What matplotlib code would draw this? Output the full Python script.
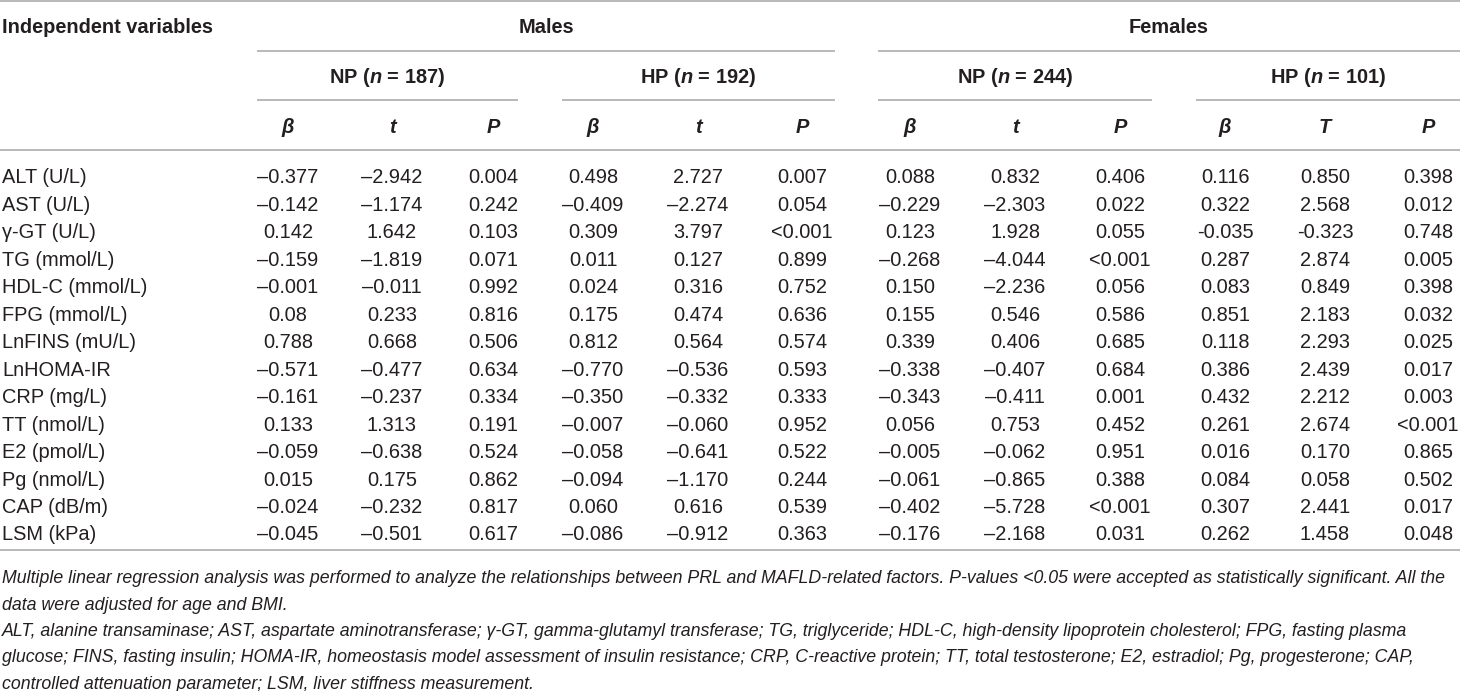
import matplotlib
matplotlib.use("Agg")
import matplotlib.pyplot as plt

plt.rcParams['font.family'] = ['Liberation Sans', 'DejaVu Sans']
plt.rcParams['mathtext.fontset'] = 'custom'
plt.rcParams['mathtext.it'] = 'Liberation Sans:italic:bold'
plt.rcParams['mathtext.rm'] = 'Liberation Sans:bold'

# Table content
variables = ["ALT (U/L)", "AST (U/L)", "γ-GT (U/L)", "TG (mmol/L)", "HDL-C (mmol/L)",
             "FPG (mmol/L)", "LnFINS (mU/L)", "LnHOMA-IR", "CRP (mg/L)", "TT (nmol/L)",
             "E2 (pmol/L)", "Pg (nmol/L)", "CAP (dB/m)", "LSM (kPa)"]

sexes = ["Males", "Females"]
groups = ["NP ($n$ = 187)", "HP ($n$ = 192)", "NP ($n$ = 244)", "HP ($n$ = 101)"]
stat_names = ["β", "t", "P", "β", "t", "P", "β", "t", "P", "β", "T", "P"]

m_np_beta = ["–0.377", "–0.142", "0.142", "–0.159", "–0.001", "0.08", "0.788", "–0.571",
             "–0.161", "0.133", "–0.059", "0.015", "–0.024", "–0.045"]
m_np_t = ["–2.942", "–1.174", "1.642", "–1.819", "–0.011", "0.233", "0.668", "–0.477",
          "–0.237", "1.313", "–0.638", "0.175", "–0.232", "–0.501"]
m_np_p = ["0.004", "0.242", "0.103", "0.071", "0.992", "0.816", "0.506", "0.634",
          "0.334", "0.191", "0.524", "0.862", "0.817", "0.617"]
m_hp_beta = ["0.498", "–0.409", "0.309", "0.011", "0.024", "0.175", "0.812", "–0.770",
             "–0.350", "–0.007", "–0.058", "–0.094", "0.060", "–0.086"]
m_hp_t = ["2.727", "–2.274", "3.797", "0.127", "0.316", "0.474", "0.564", "–0.536",
          "–0.332", "–0.060", "–0.641", "–1.170", "0.616", "–0.912"]
m_hp_p = ["0.007", "0.054", "<0.001", "0.899", "0.752", "0.636", "0.574", "0.593",
          "0.333", "0.952", "0.522", "0.244", "0.539", "0.363"]
f_np_beta = ["0.088", "–0.229", "0.123", "–0.268", "0.150", "0.155", "0.339", "–0.338",
             "–0.343", "0.056", "–0.005", "–0.061", "–0.402", "–0.176"]
f_np_t = ["0.832", "–2.303", "1.928", "–4.044", "–2.236", "0.546", "0.406", "–0.407",
          "–0.411", "0.753", "–0.062", "–0.865", "–5.728", "–2.168"]
f_np_p = ["0.406", "0.022", "0.055", "<0.001", "0.056", "0.586", "0.685", "0.684",
          "0.001", "0.452", "0.951", "0.388", "<0.001", "0.031"]
f_hp_beta = ["0.116", "0.322", "-0.035", "0.287", "0.083", "0.851", "0.118", "0.386",
             "0.432", "0.261", "0.016", "0.084", "0.307", "0.262"]
f_hp_t = ["0.850", "2.568", "-0.323", "2.874", "0.849", "2.183", "2.293", "2.439",
          "2.212", "2.674", "0.170", "0.058", "2.441", "1.458"]
f_hp_p = ["0.398", "0.012", "0.748", "0.005", "0.398", "0.032", "0.025", "0.017",
          "0.003", "<0.001", "0.865", "0.502", "0.017", "0.048"]

columns = [m_np_beta, m_np_t, m_np_p, m_hp_beta, m_hp_t, m_hp_p,
           f_np_beta, f_np_t, f_np_p, f_hp_beta, f_hp_t, f_hp_p]

footnotes = [
    "Multiple linear regression analysis was performed to analyze the relationships between PRL and MAFLD-related factors. P-values <0.05 were accepted as statistically significant. All the",
    "data were adjusted for age and BMI.",
    "ALT, alanine transaminase; AST, aspartate aminotransferase; γ-GT, gamma-glutamyl transferase; TG, triglyceride; HDL-C, high-density lipoprotein cholesterol; FPG, fasting plasma",
    "glucose; FINS, fasting insulin; HOMA-IR, homeostasis model assessment of insulin resistance; CRP, C-reactive protein; TT, total testosterone; E2, estradiol; Pg, progesterone; CAP,",
    "controlled attenuation parameter; LSM, liver stiffness measurement.",
]

# Layout (pixel coordinates)
W, H = 1460, 691
col_x = [288, 392, 493, 593, 698, 802, 910, 1015, 1120, 1225, 1325, 1428]
group_spans = [(257, 518), (562, 835), (878, 1152), (1196, 1460)]
sex_spans = [(257, 835), (878, 1460)]
row0, row_step = 183, 27.5
fs = 14.4
txt = "#231f20"
rule = "#a6a6a6"

fig = plt.figure(figsize=(W / 100, H / 100), dpi=100)
ax = fig.add_axes([0, 0, 1, 1])
ax.set_xlim(0, W)
ax.set_ylim(H, 0)
ax.axis("off")

# horizontal rules
ax.hlines([1, 150, 550], 0, W, color=rule, lw=1.1)
for a, b in sex_spans:
    ax.hlines(51, a, b, color=rule, lw=1.1)
for a, b in group_spans:
    ax.hlines(100, a, b, color=rule, lw=1.1)

# headers
ax.text(2, 33, "Independent variables", fontsize=fs, fontweight="bold", color=txt)
for (a, b), s in zip(sex_spans, sexes):
    ax.text((a + b) / 2, 33, s, fontsize=fs, fontweight="bold", color=txt, ha="center")
for (a, b), g in zip(group_spans, groups):
    ax.text((a + b) / 2, 83, g, fontsize=fs, fontweight="bold", color=txt, ha="center")
for x, s in zip(col_x, stat_names):
    ax.text(x, 133, s, fontsize=fs, fontweight="bold", fontstyle="italic",
            color=txt, ha="center")

# body
for i, v in enumerate(variables):
    y = row0 + i * row_step
    ax.text(2, y, v, fontsize=fs, color=txt)
    for x, col in zip(col_x, columns):
        ax.text(x, y, col[i], fontsize=fs, color=txt, ha="center")

# footnotes: shrink so the first (full) line fits the table width
renderer = fig.canvas.get_renderer()
probe = ax.text(0, 0, footnotes[0], fontsize=fs, fontstyle="italic")
w = probe.get_window_extent(renderer).width
probe.remove()
fs_note = fs * (W - 22) / w
for j, line in enumerate(footnotes):
    ax.text(2, 583 + j * 26.5, line, fontsize=fs_note, fontstyle="italic", color=txt)

fig.savefig("out.png", dpi=100)
